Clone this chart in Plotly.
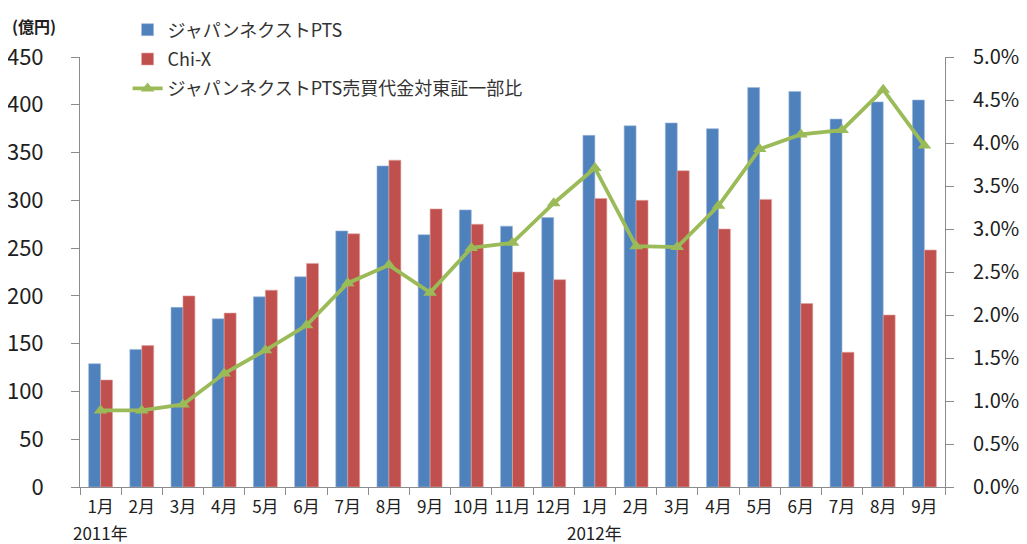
import plotly.graph_objects as go

months = ["1月", "2月", "3月", "4月", "5月", "6月", "7月", "8月", "9月", "10月", "11月", "12月",
          "1月", "2月", "3月", "4月", "5月", "6月", "7月", "8月", "9月"]
years = ["2011年", "2012年"]
year_start_idx = [0, 12]

japannext = [129, 144, 188, 176, 199, 220, 268, 336, 264, 290, 273, 282,
             368, 378, 381, 375, 418, 414, 385, 403, 405]
chix = [112, 148, 200, 182, 206, 234, 265, 342, 291, 275, 225, 217,
        302, 300, 331, 270, 301, 192, 141, 180, 248]
ratio = [0.0089, 0.0089, 0.0096, 0.0132, 0.0159, 0.0188, 0.0237, 0.0258, 0.0226, 0.0278, 0.0284, 0.0330,
         0.0371, 0.0280, 0.0279, 0.0327, 0.0393, 0.0410, 0.0415, 0.0462, 0.0397]

names = ["ジャパンネクストPTS", "Chi-X", "ジャパンネクストPTS売買代金対東証一部比"]

x = list(range(len(months)))
FONT = "Noto Sans CJK JP"

fig = go.Figure()
fig.add_trace(go.Bar(x=x, y=japannext, name=names[0], marker=dict(color="#4F81BD", line=dict(color="#9DB8DC", width=0.6)),
                     legendgroup="a"))
fig.add_trace(go.Bar(x=x, y=chix, name=names[1], marker=dict(color="#C0504D", line=dict(color="#E0A3A1", width=0.6)),
                     legendgroup="b"))
fig.add_trace(go.Scatter(x=x, y=ratio, name=names[2], yaxis="y2", mode="lines+markers",
                         line=dict(color="#9BBB59", width=3.8),
                         marker=dict(symbol="triangle-up", size=12, color="#9BBB59"),
                         legendgroup="c"))

for yi, yl in zip(year_start_idx, years):
    fig.add_annotation(x=x[yi], y=0, xref="x", yref="paper", text=yl, showarrow=False,
                       xanchor="center", yanchor="middle", yshift=-45,
                       font=dict(family=FONT, size=17, color="#202020"))

fig.add_annotation(x=0, y=1, xref="paper", yref="paper", text="<b>(億円)</b>", showarrow=False,
                   xanchor="left", yanchor="top", xshift=-70, yshift=-2,
                   font=dict(family=FONT, size=16, color="#202020"))

fig.update_layout(
    width=1027, height=544,
    margin=dict(l=72, r=90, t=2, b=65, autoexpand=False),
    paper_bgcolor="white", plot_bgcolor="white",
    barmode="group", bargap=0.42, bargroupgap=0,
    font=dict(family=FONT, color="#202020"),
    showlegend=True,
    legend=dict(x=0.055, y=0.997, xanchor="left", yanchor="top", bgcolor="rgba(0,0,0,0)",
                font=dict(family=FONT, size=18, color="#333333"), tracegroupgap=3,
                itemwidth=30),
    xaxis=dict(range=[-0.5, len(months) - 0.5], tickmode="array", tickvals=x, ticktext=months,
               ticks="", showline=True, linecolor="#8C8C8C", linewidth=1, showgrid=False, zeroline=False,
               automargin=False, ticklabelstandoff=5,
               tickfont=dict(family=FONT, size=17, color="#202020"),
               minor=dict(tickmode="array", tickvals=[i - 0.5 for i in range(len(months) + 1)],
                          ticks="outside", ticklen=7, tickcolor="#8C8C8C", showgrid=False)),
    yaxis=dict(range=[0, 450], dtick=50, domain=[0, 430 / 477], showline=True, linecolor="#8C8C8C", linewidth=1,
               ticks="outside", ticklen=8, tickcolor="#8C8C8C", showgrid=False, zeroline=False,
               automargin=False,
               tickfont=dict(family=FONT, size=22, color="#202020"), ticklabelstandoff=23),
    yaxis2=dict(range=[0, 0.05], dtick=0.005, tickformat=".1%", overlaying="y", side="right",
                showline=True, linecolor="#8C8C8C", linewidth=1, ticks="outside", ticklen=8,
                tickcolor="#8C8C8C", showgrid=False, zeroline=False, automargin=False,
                tickfont=dict(family=FONT, size=20, color="#202020"), ticklabelstandoff=15),
)

fig.write_html("out.html")
